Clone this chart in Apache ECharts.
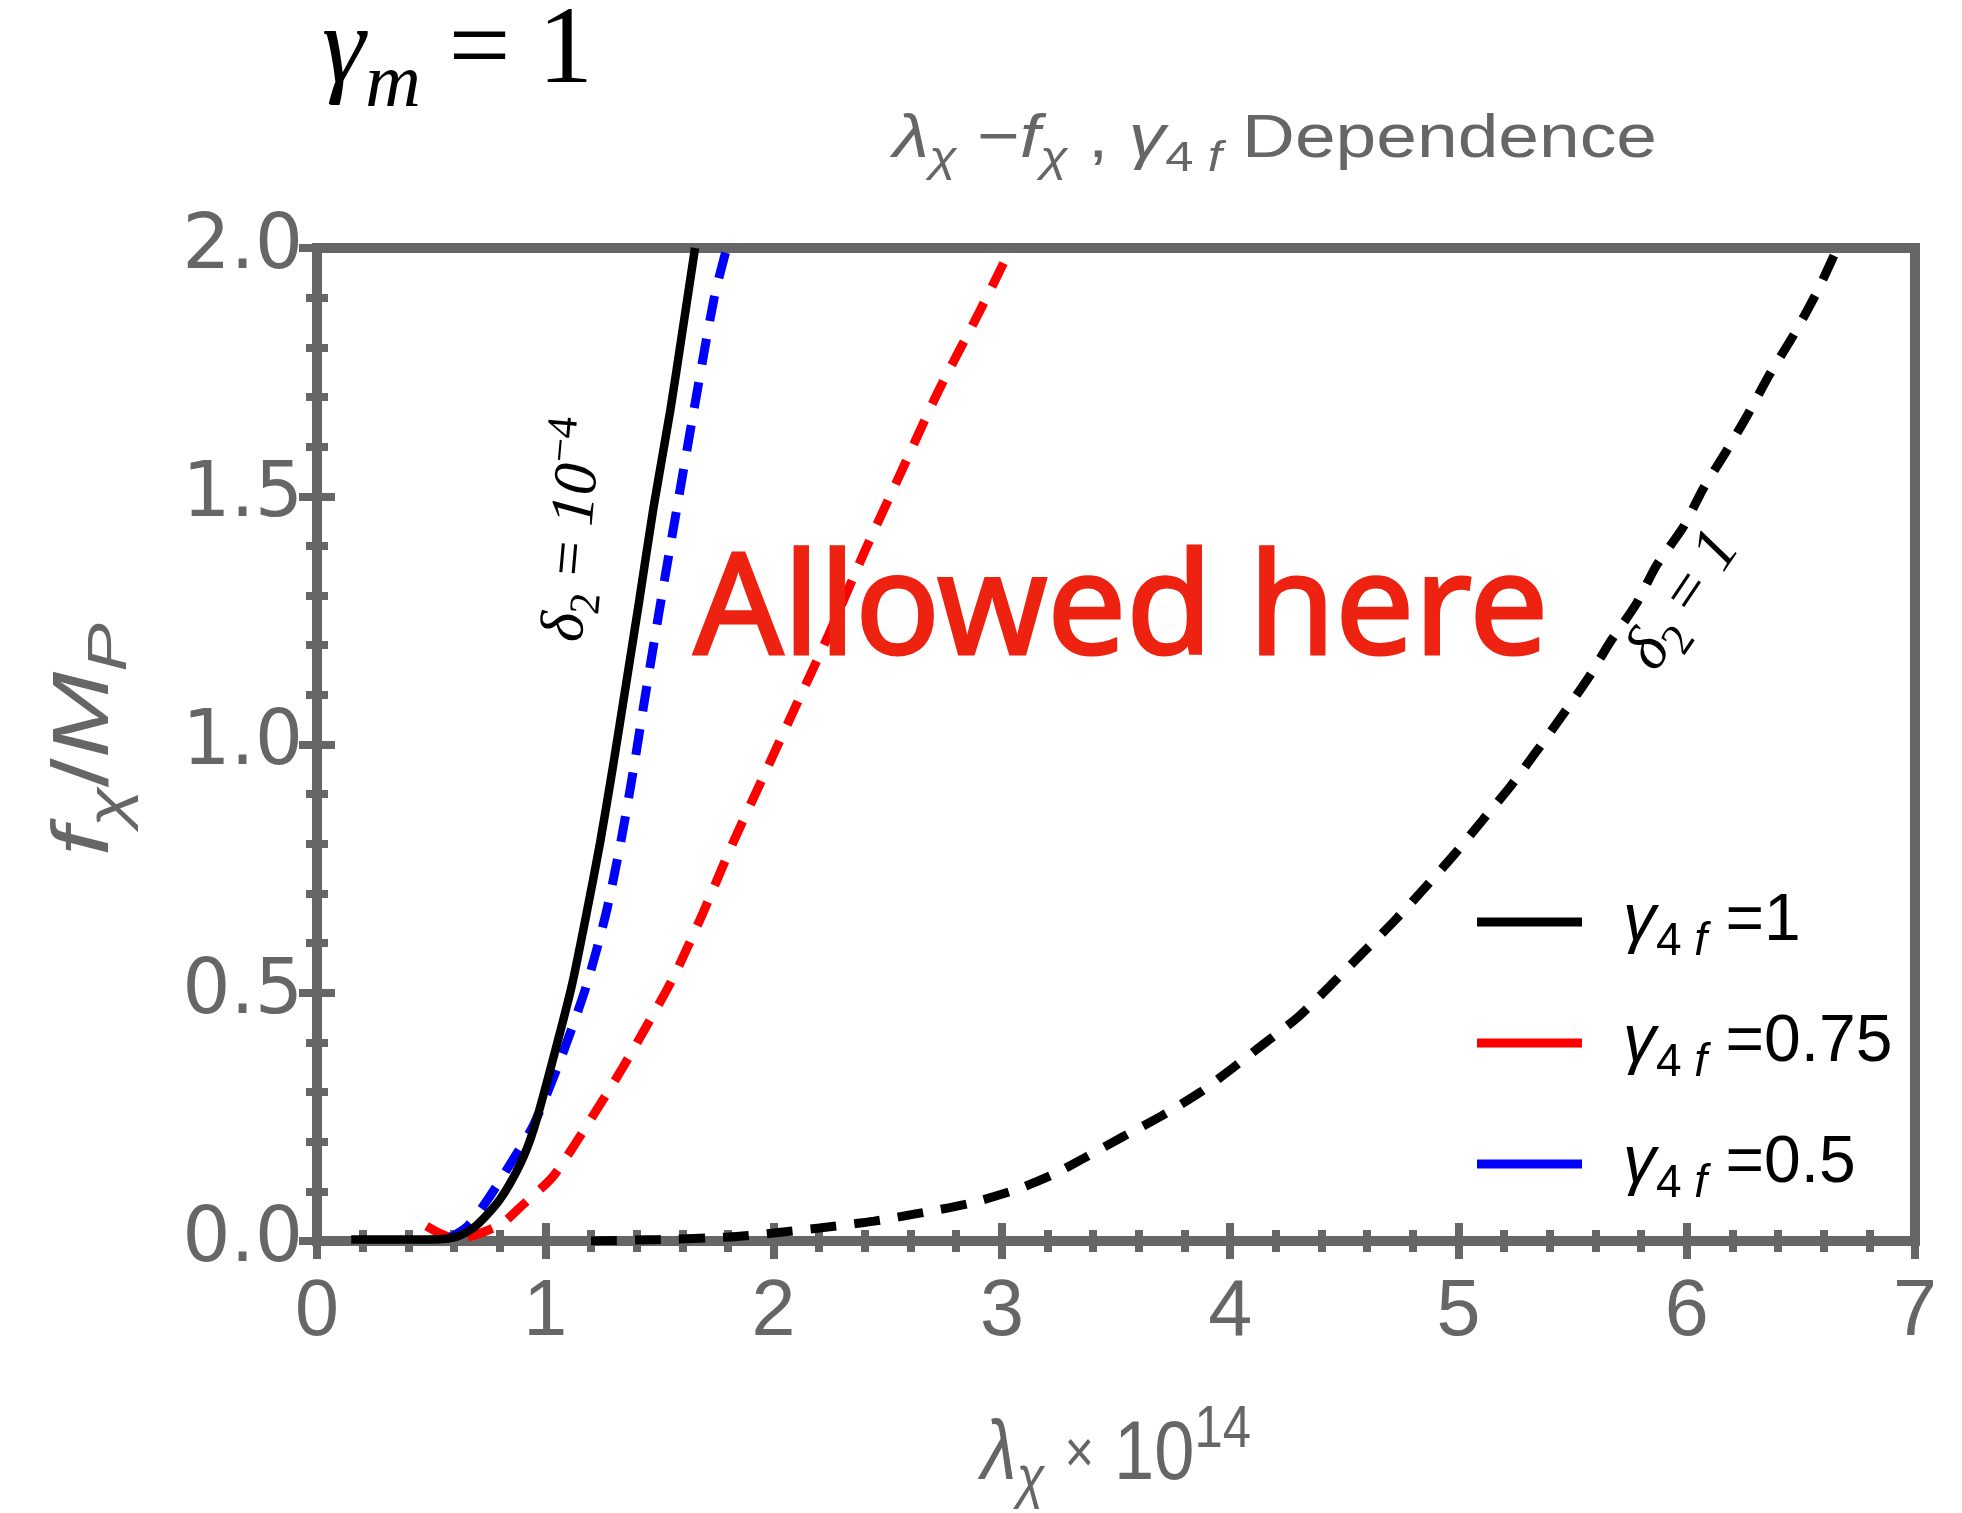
<!DOCTYPE html>
<html>
<head>
    <meta charset="utf-8">
    <title>λχ − fχ , γ4f Dependence</title>
    <script src="https://cdn.jsdelivr.net/npm/echarts@6/dist/echarts.min.js"></script>
    <style>
        html, body { margin: 0; padding: 0; background: #fff; }
        #chart { width: 1962px; height: 1513px; }
    </style>
</head>
<body>
<div id="chart"></div>
<script>
    // curves, points are [lambda_chi * 1e14, f_chi / M_P]
    var gamma1 = [      // γ4f = 1 (solid black, δ2 = 1e-4)
        [0.15, 0.003], [0.30, 0.003], [0.45, 0.003], [0.55, 0.004], [0.62, 0.010], [0.70, 0.032],
        [0.80, 0.083], [0.89, 0.155], [0.95, 0.226], [1.036, 0.370], [1.116, 0.514], [1.18, 0.658],
        [1.24, 0.802], [1.293, 0.946], [1.343, 1.09], [1.41, 1.285], [1.475, 1.48], [1.547, 1.671],
        [1.60, 1.83], [1.656, 2.0]
    ];
    var gamma075 = [    // γ4f = 0.75 (red dashed)
        [0.48, 0.030], [0.54, 0.015], [0.60, 0.006], [0.66, 0.008], [0.73, 0.018], [0.81, 0.035],
        [0.89, 0.068], [1.03, 0.128], [1.13, 0.195], [1.24, 0.275], [1.34, 0.350], [1.44, 0.430],
        [1.56, 0.530], [1.69, 0.660], [1.82, 0.800], [1.95, 0.930], [2.08, 1.060], [2.24, 1.220],
        [2.40, 1.390], [2.56, 1.550], [2.72, 1.710], [2.90, 1.870], [3.04, 2.0]
    ];
    var gamma05 = [     // γ4f = 0.5 (blue dashed)
        [0.58, 0.006], [0.66, 0.030], [0.75, 0.085], [0.86, 0.165], [0.95, 0.235], [1.07, 0.370],
        [1.18, 0.514], [1.265, 0.658], [1.33, 0.802], [1.385, 0.946], [1.435, 1.09], [1.505, 1.285],
        [1.578, 1.48], [1.65, 1.671], [1.74, 1.90], [1.795, 2.0]
    ];
    var delta1 = [      // δ2 = 1 (black dashed)
        [1.2, 0.0], [1.5, 0.003], [1.8, 0.008], [2.0, 0.016], [2.2, 0.026], [2.44, 0.040],
        [2.64, 0.056], [2.86, 0.076], [3.06, 0.103], [3.22, 0.133], [3.36, 0.167], [3.53, 0.210],
        [3.70, 0.252], [3.87, 0.300], [4.01, 0.348], [4.15, 0.398], [4.30, 0.452], [4.44, 0.515],
        [4.58, 0.580], [4.72, 0.645], [4.86, 0.715], [4.99, 0.783], [5.11, 0.850], [5.23, 0.917],
        [5.34, 0.985], [5.445, 1.052], [5.576, 1.139], [5.664, 1.206], [5.78, 1.284], [5.868, 1.361],
        [5.985, 1.438], [6.072, 1.515], [6.175, 1.592], [6.262, 1.660], [6.364, 1.746], [6.466, 1.823],
        [6.569, 1.910], [6.66, 2.0]
    ];
    var legendNames = ['γ4f=1', 'γ4f=0.75', 'γ4f=0.5'];
    var legendValues = ['1', '0.75', '0.5'];
    var xRange = [0, 7, 1];          // min, max, interval
    var yRange = [0, 2, 0.5];

    var SANS = 'Liberation Sans, Arial, Helvetica, sans-serif';
    var WIDE = 'DejaVu Sans, Liberation Sans, sans-serif';
    var SERIF = 'Liberation Serif, Times New Roman, serif';
    var GRAY = '#666666';

    // rich styles for math-like text; key is 'fill' for graphic, 'color' for labels
    function richSet(family, size, color, key) {
        var sub = Math.round(size * 0.7);
        var lh = Math.round(size * 1.3);
        function st(o) {
            o.fontFamily = family;
            o[key] = color;
            return o;
        }
        return {
            n: st({fontSize: size, lineHeight: lh}),
            i: st({fontSize: size, lineHeight: lh, fontStyle: 'italic'}),
            m: st({fontSize: sub, lineHeight: lh}),
            s: st({fontSize: sub, lineHeight: sub, verticalAlign: 'bottom'}),
            si: st({fontSize: sub, lineHeight: sub, verticalAlign: 'bottom', fontStyle: 'italic'}),
            p: st({fontSize: sub, lineHeight: sub, verticalAlign: 'top'}),
            pi: st({fontSize: sub, lineHeight: sub, verticalAlign: 'top', fontStyle: 'italic'})
        };
    }

    var tickStyle = {color: GRAY, width: 8};

    function xAxisOf(pos, labels) {
        return {
            type: 'value', position: pos,
            min: xRange[0], max: xRange[1], interval: xRange[2],
            axisLine: {show: false},
            axisTick: {show: true, inside: true, length: 18, lineStyle: tickStyle},
            minorTick: {show: true, splitNumber: 5, length: 11, lineStyle: tickStyle},
            splitLine: {show: false},
            axisLabel: {show: labels, margin: 33, fontSize: 79, fontFamily: SANS, color: GRAY}
        };
    }
    function yAxisOf(pos, labels) {
        return {
            type: 'value', position: pos,
            min: yRange[0], max: yRange[1], interval: yRange[2],
            axisLine: {show: false},
            axisTick: {show: true, inside: true, length: 18, lineStyle: tickStyle},
            minorTick: {show: true, splitNumber: 5, length: 11, lineStyle: tickStyle},
            splitLine: {show: false},
            axisLabel: {
                show: labels, margin: 14, fontSize: 76, fontFamily: WIDE, color: GRAY,
                formatter: function (v) { return v.toFixed(1); }
            }
        };
    }

    function curve(name, data, color, width, dash, z) {
        return {
            name: name, type: 'line', data: data,
            xAxisIndex: 0, yAxisIndex: 0,
            showSymbol: false, symbol: 'none',
            smooth: 0.25,
            itemStyle: {color: color},
            lineStyle: {color: color, width: width, type: dash || 'solid', cap: 'butt'},
            z: z
        };
    }

    var chart = echarts.init(document.getElementById('chart'));
    var legendRich = richSet(SANS, 66, '#000', 'color');
    legendRich.g = {fontFamily: SANS, fontSize: 66, lineHeight: 86, fontStyle: 'italic', color: '#000', padding: [0, 0, 0, 36]};

    var option = {
        animation: false,
        backgroundColor: '#fff',
        grid: {
            left: 317, right: 47, top: 248, bottom: 272,
            show: true, borderColor: GRAY, borderWidth: 10, backgroundColor: 'transparent'
        },
        xAxis: [xAxisOf('bottom', true), xAxisOf('top', false)],
        yAxis: [yAxisOf('left', true), yAxisOf('right', false)],
        legend: {
            data: legendNames,
            orient: 'vertical',
            left: 1477, top: 889,
            padding: 0,
            itemGap: 45,
            itemWidth: 105, itemHeight: 9,
            icon: 'rect',
            selectedMode: false,
            formatter: function (name) {
                var v = legendValues[legendNames.indexOf(name)];
                return '{g|γ}{s|4 }{si|f}{n| =' + v + '}';
            },
            textStyle: {color: '#000', fontFamily: SANS, fontSize: 66, rich: legendRich}
        },
        series: [
            curve('δ2=1', delta1, '#000000', 9, [26, 18], 2),
            curve(legendNames[1], gamma075, '#ff0000', 9, [26, 18], 3),
            curve(legendNames[2], gamma05, '#0000ff', 9, [26, 18], 4),
            curve(legendNames[0], gamma1, '#000000', 8.5, 'solid', 5)
        ]
    };
    chart.setOption(option);

    // text placed from data coordinates
    function px(x, y) {
        return chart.convertToPixel({xAxisIndex: 0, yAxisIndex: 0}, [x, y]);
    }
    function textEl(x, y, text, rich, align, rot, sx) {
        return {
            type: 'text', x: x, y: y, z: 100,
            rotation: (rot || 0) * Math.PI / 180,
            scaleX: sx || 1,
            style: {text: text, rich: rich, align: align, verticalAlign: 'middle'}
        };
    }

    var pDelta4 = px(1.13, 1.432);
    var pDelta1 = px(5.988, 1.289);
    var pAllowed = px(1.65, 1.263);
    var pXName = px(3.5, 0);
    var pYName = px(0, 1.01);

    chart.setOption({
        graphic: [
            textEl(322, 53, '{i|γ}{si|m}{n| = 1}', richSet(SERIF, 110, '#000', 'fill'), 'left'),
            textEl(893, 140, '{i|λ}{si|χ}{n| −}{i|f}{si|χ}{n| , }{i|γ}{s|4 }{si|f}{n| Dependence}',
                richSet(SANS, 62, GRAY, 'fill'), 'left', 0, 1.18),
            textEl(pXName[0], 1456, '{i|λ}{si|χ}{n| }{m|×}{n| 10}{p|14}', richSet(SANS, 84, GRAY, 'fill'), 'center', 0, 0.86),
            textEl(86, pYName[1], '{i|f}{si|χ}{n|/}{i|M}{si|P}', richSet(SANS, 80, GRAY, 'fill'), 'center', 90, 1.3),
            textEl(pDelta4[0], pDelta4[1], '{i|δ}{s|2}{n| = }{i|10}{p|−4}', richSet(SERIF, 62, '#000', 'fill'), 'center', 85),
            textEl(pDelta1[0], pDelta1[1], '{i|δ}{s|2}{n| = }{i|1}', richSet(SERIF, 64, '#000', 'fill'), 'center', 56),
            {
                type: 'text', x: pAllowed[0], y: pAllowed[1], z: 100,
                style: {
                    text: 'Allowed here', fill: '#ee2211',
                    stroke: '#ee2211', lineWidth: 3,
                    fontFamily: '"Noto Sans", sans-serif',
                    fontSize: 140, align: 'left', verticalAlign: 'middle'
                }
            }
        ]
    });
</script>
</body>
</html>
